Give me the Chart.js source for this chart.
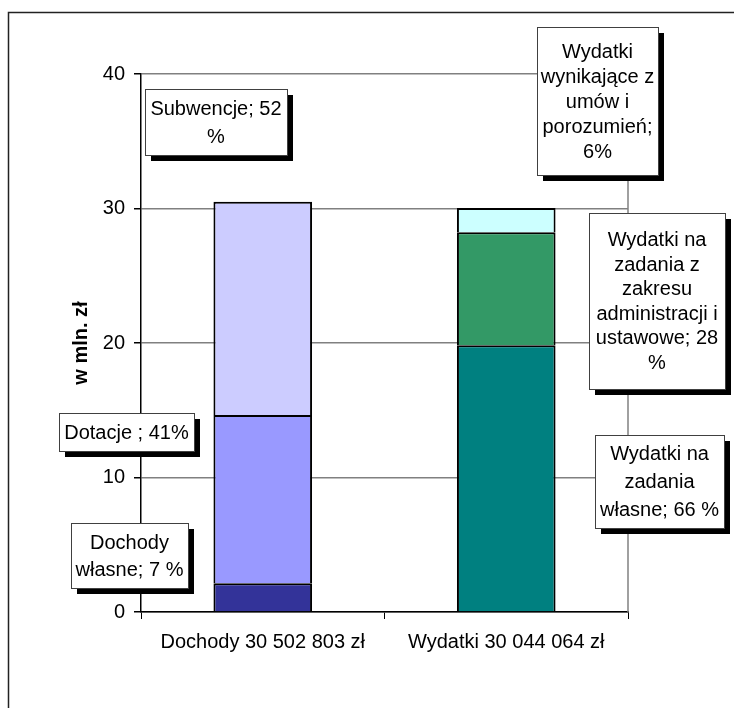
<!DOCTYPE html>
<html lang="pl">
<head>
    <meta charset="UTF-8">
    <title>Dochody i wydatki</title>
    <script src="https://cdn.jsdelivr.net/npm/chart.js"></script>
    <style>
        body {
            margin: 0;
            background-color: #ffffff;
        }
        #wrap {
            width: 734px;
            height: 708px;
        }
    </style>
</head>
<body>
    <div id="wrap"><canvas id="budgetChart" width="734" height="708"></canvas></div>

    <script>
        // data (mln zł)
        const categories = ['Dochody 30 502 803 zł', 'Wydatki 30 044 064 zł'];
        const incomeNames = ['Dochody własne', 'Dotacje', 'Subwencje'];
        const incomeValues = [2.14, 12.51, 15.86];
        const expenseNames = ['Wydatki na zadania własne', 'Wydatki na zadania z zakresu administracji i ustawowe', 'Wydatki wynikające z umów i porozumień'];
        const expenseValues = [19.83, 8.41, 1.80];
        const yTicks = [0, 10, 20, 30, 40];
        const axisTitle = 'w mln. zł';

        const incomeColors = ['#333399', '#9999ff', '#ccccff'];
        const expenseColors = ['#008080', '#339966', '#ccffff'];

        // text boxes next to the bars
        const labelBoxes = [
            { lines: ['Subwencje; 52', '%'], x: 145, y: 89, w: 142, h: 66, lh: 28 },
            { lines: ['Dotacje ; 41%'], x: 59, y: 413, w: 135, h: 38, lh: 25 },
            { lines: ['Dochody', 'własne; 7 %'], x: 71, y: 523, w: 117, h: 65, lh: 27 },
            { lines: ['Wydatki', 'wynikające z', 'umów i', 'porozumień;', '6%'], x: 537, y: 27, w: 121, h: 148, lh: 25 },
            { lines: ['Wydatki na', 'zadania z', 'zakresu', 'administracji i', 'ustawowe; 28', '%'], x: 589, y: 213, w: 136, h: 176, lh: 24.5 },
            { lines: ['Wydatki na', 'zadania', 'własne; 66 %'], x: 595, y: 435, w: 129, h: 93, lh: 28 }
        ];

        const FONT = "'Liberation Sans', Arial, sans-serif";

        const datasets = [];
        incomeNames.forEach((name, i) => {
            datasets.push({
                label: name,
                data: [incomeValues[i], null],
                backgroundColor: incomeColors[i],
                borderColor: '#000',
                borderWidth: 2,
                stack: 's'
            });
        });
        expenseNames.forEach((name, i) => {
            datasets.push({
                label: name,
                data: [null, expenseValues[i]],
                backgroundColor: expenseColors[i],
                borderColor: '#000',
                borderWidth: 2,
                stack: 's'
            });
        });

        const decorations = {
            id: 'decorations',
            beforeDraw(chart) {
                const ctx = chart.ctx;
                ctx.save();
                ctx.fillStyle = '#fff';
                ctx.fillRect(0, 0, chart.width, chart.height);
                // outer frame
                ctx.strokeStyle = '#222';
                ctx.lineWidth = 1.5;
                ctx.beginPath();
                ctx.moveTo(8.5, chart.height);
                ctx.lineTo(8.5, 12.5);
                ctx.lineTo(chart.width, 12.5);
                ctx.stroke();
                ctx.restore();
            },
            beforeDatasetsDraw(chart) {
                const ctx = chart.ctx;
                const a = chart.chartArea;
                ctx.save();
                ctx.strokeStyle = '#808080';
                ctx.lineWidth = 1.5;
                ctx.beginPath();
                ctx.moveTo(a.right, a.top);
                ctx.lineTo(a.right, a.bottom);
                ctx.stroke();
                // y axis title
                ctx.translate(81, (a.top + a.bottom) / 2);
                ctx.rotate(-Math.PI / 2);
                ctx.fillStyle = '#000';
                ctx.font = 'bold 20px ' + FONT;
                ctx.textAlign = 'center';
                ctx.textBaseline = 'middle';
                ctx.fillText(axisTitle, 0, 0);
                ctx.restore();
            },
            afterDatasetsDraw(chart) {
                const ctx = chart.ctx;
                ctx.save();
                ctx.font = '20px ' + FONT;
                ctx.textAlign = 'center';
                ctx.textBaseline = 'middle';
                labelBoxes.forEach(b => {
                    ctx.fillStyle = '#000';
                    ctx.fillRect(b.x + 6, b.y + 6, b.w, b.h);
                    ctx.fillStyle = '#fff';
                    ctx.fillRect(b.x, b.y, b.w, b.h);
                    ctx.strokeStyle = '#404040';
                    ctx.lineWidth = 1;
                    ctx.strokeRect(b.x + 0.5, b.y + 0.5, b.w, b.h);
                    const top = b.y + b.h / 2 - (b.lines.length - 1) * b.lh / 2 + 1;
                    ctx.fillStyle = '#000';
                    b.lines.forEach((t, k) => ctx.fillText(t, b.x + b.w / 2, top + k * b.lh));
                });
                ctx.restore();
            }
        };

        new Chart(document.getElementById('budgetChart'), {
            type: 'bar',
            data: { labels: categories, datasets: datasets },
            plugins: [decorations],
            options: {
                responsive: false,
                animation: false,
                layout: { padding: { top: 74, right: 106, left: 0, bottom: 0 } },
                plugins: {
                    legend: { display: false },
                    tooltip: { enabled: false }
                },
                datasets: {
                    bar: { categoryPercentage: 1, barPercentage: 0.405 }
                },
                scales: {
                    x: {
                        stacked: true,
                        afterFit(s) { s.height = 96; },
                        grid: { display: true, drawOnChartArea: false, offset: true, tickLength: 7, color: '#000' },
                        border: { color: '#000', width: 1.5 },
                        ticks: { color: '#000', font: { family: FONT, size: 20 }, padding: 11, maxRotation: 0 }
                    },
                    y: {
                        stacked: true,
                        min: yTicks[0],
                        max: yTicks[yTicks.length - 1],
                        afterFit(s) { s.width = 141; },
                        afterBuildTicks(s) { s.ticks = yTicks.map(v => ({ value: v })); },
                        grid: { color: '#808080', tickColor: '#000', tickLength: 7, lineWidth: 1.5 },
                        border: { color: '#000', width: 1.5 },
                        ticks: { color: '#000', font: { family: FONT, size: 20 }, padding: 9 }
                    }
                }
            }
        });
    </script>
</body>
</html>
